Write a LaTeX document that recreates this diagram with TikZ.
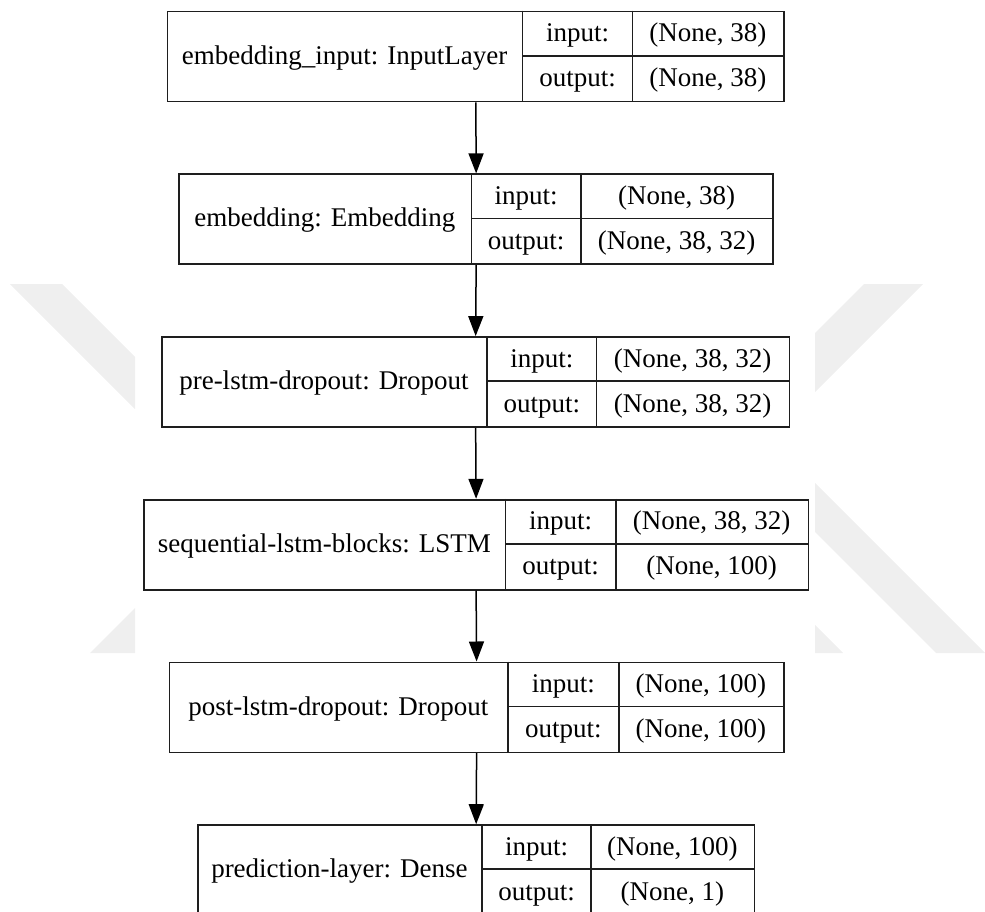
\documentclass[tikz,border=0pt]{standalone}
\usepackage{fontspec}
\setmainfont{Liberation Serif}
\usetikzlibrary{arrows.meta}
\definecolor{wm}{RGB}{239,239,239}
\definecolor{edge}{RGB}{30,30,30}
\tikzset{
  layer/.style={draw=edge, line width=1.7pt, rectangle, inner sep=0pt, anchor=north west, fill=white},
  divider/.style={draw=edge, line width=1.7pt},
  lbl/.style={font=\fontsize{27pt}{32pt}\selectfont, inner sep=0pt, anchor=base},
  arr/.style={draw=black, line width=1.5pt, -{Triangle[length=20pt,width=15pt]}},
  wmark/.style={fill=wm, draw=none}
}
% #1 name, #2 top, #3 left, #4 right, #5 divider1, #6 divider2, #7 label, #8 input, #9 output
\newcommand{\layerbox}[9]{%
  \node[layer, minimum width={#4pt-#3pt}, minimum height=90pt] (#1) at (#3,#2) {};
  \draw[divider] (#5,#2) -- (#5,{#2+90});
  \draw[divider] (#6,#2) -- (#6,{#2+90});
  \draw[divider] (#5,{#2+45}) -- (#4,{#2+45});
  \node[lbl] (#1-name) at ({(#3+#5)/2},{#2+45+8.5}) {#7};
  \node[lbl] (#1-inlbl) at ({(#5+#6)/2},{#2+22.5+8.5}) {input:};
  \node[lbl] (#1-outlbl) at ({(#5+#6)/2},{#2+67.5+8.5}) {output:};
  \node[lbl] (#1-inval) at ({(#6+#4)/2},{#2+22.5+8.5}) {#8};
  \node[lbl] (#1-outval) at ({(#6+#4)/2},{#2+67.5+8.5}) {#9};
}
\begin{document}
\begin{tikzpicture}[x=1pt,y=-1pt]
\useasboundingbox (0,0) rectangle (985,912);
\clip (0,0) rectangle (985,912);
% faint background watermark
\fill[wmark] (10,284) -- (62,284) -- (135,357) -- (135,409) -- cycle;
\fill[wmark] (90,653) -- (135,608) -- (135,653) -- cycle;
\fill[wmark] (864,284) -- (923,284) -- (815,392) -- (815,333) -- cycle;
\fill[wmark] (815,483) -- (985,653) -- (936,653) -- (815,532) -- cycle;
\fill[wmark] (815,625) -- (843,653) -- (815,653) -- cycle;
% layers
\layerbox{l1}{10.7}{166.7}{783.3}{522.6}{632.6}{embedding\_input: InputLayer}{(None, 38)}{(None, 38)}
\layerbox{l2}{173.4}{178.2}{772.4}{471.6}{580.7}{embedding: Embedding}{(None, 38)}{(None, 38, 32)}
\layerbox{l3}{336.1}{161}{788.6}{487}{596.6}{pre-lstm-dropout: Dropout}{(None, 38, 32)}{(None, 38, 32)}
\layerbox{l4}{498.8}{143}{807.5}{505.6}{615.7}{sequential-lstm-blocks: LSTM}{(None, 38, 32)}{(None, 100)}
\layerbox{l5}{661.5}{168.7}{782.8}{508}{618.9}{post-lstm-dropout: Dropout}{(None, 100)}{(None, 100)}
\layerbox{l6}{824.2}{196.9}{753.7}{482}{591}{prediction-layer: Dense}{(None, 100)}{(None, 1)}
% connectors
\draw[arr] (l1.south) -- (l2.north);
\draw[arr] (l2.south) -- (l3.north);
\draw[arr] (l3.south) -- (l4.north);
\draw[arr] (l4.south) -- (l5.north);
\draw[arr] (l5.south) -- (l6.north);
\end{tikzpicture}
\end{document}
